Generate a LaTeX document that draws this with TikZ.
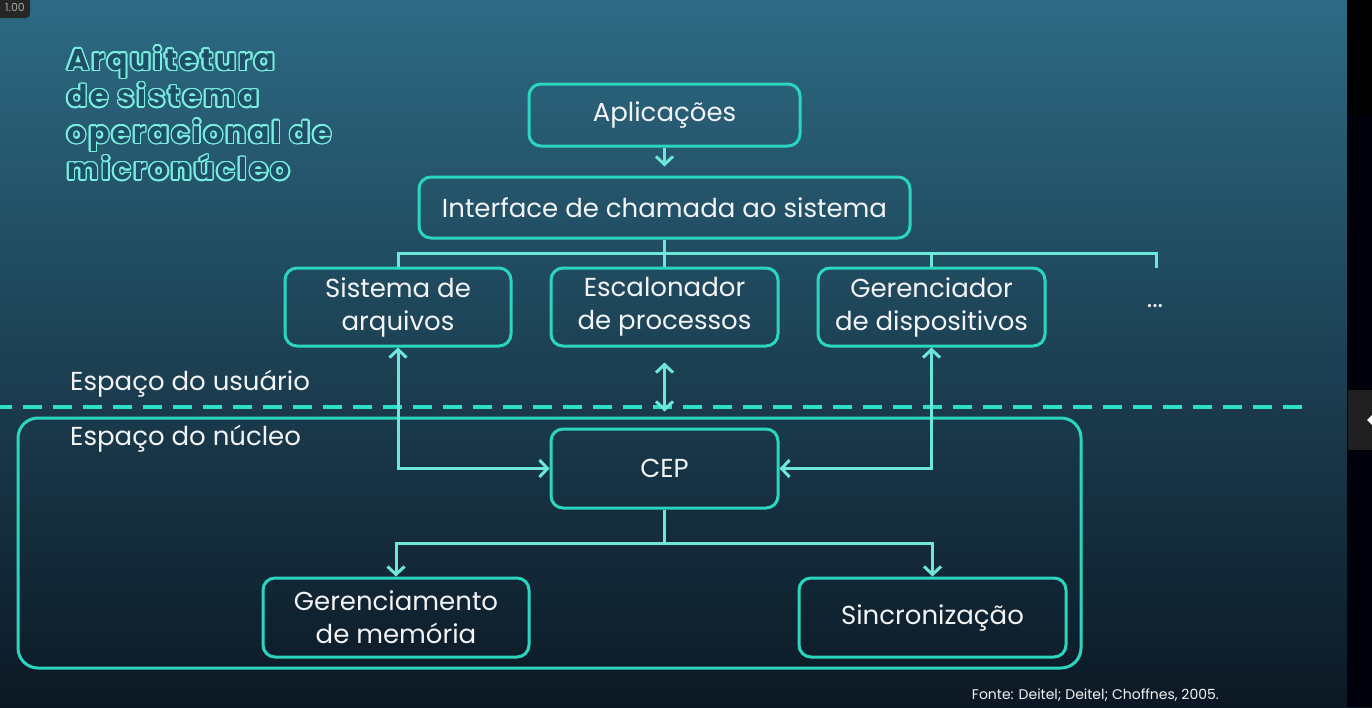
\documentclass[tikz,border=0pt]{standalone}
\usepackage{fontspec}
\setmainfont{Poppins}
\newfontfamily\titulofonte{Poppins}[UprightFont=*-Bold, LetterSpace=9]
\usepackage{contour}
\usetikzlibrary{arrows.meta}

\definecolor{bordacol}{HTML}{2BD6BF}
\definecolor{setacol}{HTML}{6FE6DA}
\definecolor{tracocol}{HTML}{2EE0C8}
\definecolor{brilho}{HTML}{79EEDF}
\definecolor{titulocol}{HTML}{1F4F66}
\definecolor{textocol}{HTML}{F2F4F5}
\definecolor{fundotopo}{HTML}{2D6A84}
\definecolor{fundomeio}{HTML}{183C50}
\definecolor{fundobaixo}{HTML}{0C1824}

\contourlength{1.6pt}
\newcommand{\fontecaixa}{\fontsize{26}{33}\selectfont}

\tikzset{
  caixa/.style={draw=bordacol, line width=3pt, rounded corners=12pt, align=center,
    text=textocol, font=\fontecaixa, inner sep=0pt},
  linha/.style={draw=setacol, line width=3pt},
  seta/.style={linha, -{Straight Barb[length=8pt,width=17pt]}},
  seta2/.style={linha, {Straight Barb[length=8pt,width=17pt]}-{Straight Barb[length=8pt,width=17pt]}},
  rotulo/.style={text=textocol, font=\fontecaixa, inner sep=0pt}
}

\begin{document}
\begin{tikzpicture}[x=1pt, y=-1pt]
    % fundo
    \shade[top color=fundotopo, middle color=fundomeio, bottom color=fundobaixo] (0,0) rectangle (1372,707);
    \useasboundingbox (0,0) rectangle (1372,707);
    \fill[black] (1347,0) rectangle (1372,115);
    \fill[black!80!blue!20!black] (1347,115) rectangle (1372,707);
    \fill[gray!25!black] (1348,390) rectangle (1372,450);
    \fill[white] (1367,420) -- (1372,415) -- (1372,425) -- cycle;
    \fill[gray!30!black, rounded corners=4pt] (-5,-5) rectangle (30,18);
    \node[text=gray!70, font=\fontsize{11}{12}\selectfont] (zoom) at (15,7) {1.00};

    % titulo
    \node[anchor=north west, align=left, text=titulocol, inner sep=0pt,
      font=\fontsize{30}{36.5}\selectfont\titulofonte] (titulo) at (67,46)
      {\contour{brilho}{Arquitetura}\\ \contour{brilho}{de sistema}\\
       \contour{brilho}{operacional de}\\ \contour{brilho}{micronúcleo}};

    % espaco do usuario
    \node[caixa, minimum width=271pt, minimum height=62pt] (apl) at (664.5,115) {Aplicações};
    \node[caixa, minimum width=491pt, minimum height=61pt] (inter) at (664.5,207.5) {Interface de chamada ao sistema};
    \node[caixa, minimum width=226pt, minimum height=78pt] (sis) at (398,307) {Sistema de\\arquivos};
    \node[caixa, minimum width=227pt, minimum height=78pt] (esc) at (664.5,307) {Escalonador\\de processos};
    \node[caixa, minimum width=227pt, minimum height=78pt] (ger) at (931.5,307) {Gerenciador\\de dispositivos};
    \node[rotulo] (mais) at (1155,306) {...};
    \coordinate (barra) at (664.5,253);
    \coordinate (fimbarra) at (1156,268);

    \node[rotulo, anchor=west] (usuario) at (70,384) {Espaço do usuário};
    \draw[tracocol, line width=4pt, dash pattern=on 19pt off 11pt, dash phase=7pt] (0,407) -- (1312,407);

    % espaco do nucleo
    \draw[bordacol, line width=3pt, rounded corners=20pt] (18,418) rectangle (1081,668);
    \node[rotulo, anchor=west] (nucleo) at (70,439) {Espaço do núcleo};
    \node[caixa, minimum width=227pt, minimum height=79pt] (cep) at (664.5,468.5) {CEP};
    \node[caixa, minimum width=266pt, minimum height=79pt] (mem) at (396,617.5) {Gerenciamento\\de memória};
    \node[caixa, minimum width=267pt, minimum height=79pt] (sinc) at (932.5,617.5) {Sincronização};
    \coordinate (barra2) at (664.5,543);

    % conexoes
    \draw[seta, shorten >=9pt] (apl) -- (inter);
    \draw[linha] (inter) -- (esc);
    \draw[linha] (sis.north) |- (barra) -| (fimbarra);
    \draw[linha] (ger.north) -- (ger.north |- barra);
    \draw[seta2] (sis.south) |- (cep.west);
    \draw[seta2] (ger.south) |- (cep.east);
    \draw[seta2, shorten <=15pt, shorten >=16pt] (esc) -- (cep);
    \draw[linha] (cep) -- (barra2);
    \draw[seta] (barra2) -| (mem);
    \draw[seta] (barra2) -| (sinc);

    \node[anchor=east, text=textocol, font=\fontsize{14}{16}\selectfont, inner sep=0pt] (fonte) at (1219,695) {Fonte: Deitel; Deitel; Choffnes, 2005.};
\end{tikzpicture}
\end{document}
